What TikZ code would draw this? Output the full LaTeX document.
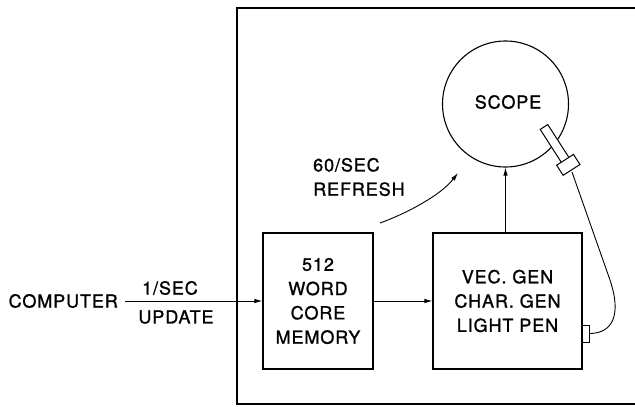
\documentclass[tikz,border=0pt]{standalone}
\usepackage{fontspec}
\setmainfont[LetterSpace=5,FakeBold=1.2]{TeX Gyre Heros}
\usetikzlibrary{arrows.meta}
\begin{document}
\begin{tikzpicture}[x=1pt,y=-1pt,
  lbl/.style={font=\fontsize{18}{24.3}\selectfont, inner sep=0pt},
  blk/.style={draw, line width=1.1pt, rectangle, inner sep=0pt, align=center, font=\fontsize{18}{24.3}\selectfont},
  conn/.style={line width=0.9pt},
  arr/.style={line width=0.9pt, -{Latex[length=8pt,width=4.5pt]}}]
\useasboundingbox (0,0) rectangle (635,407);
% frame
\draw[line width=2.2pt] (650,8) -- (237,8) -- (237,404) -- (650,404);
% blocks
\node[blk, minimum width=110pt, minimum height=136pt] (mem) at (318,301) {512\\WORD\\CORE\\MEMORY};
\node[blk, minimum width=149pt, minimum height=136pt] (gen) at (507.5,301) {VEC. GEN\\CHAR. GEN\\LIGHT PEN};
\node[draw, circle, line width=1.1pt, minimum size=126pt, inner sep=0pt, lbl] (scope) at (505.5,104) {};
\node[lbl] (scopet) at (508,102) {SCOPE};
% computer input
\node[lbl, anchor=east] (comp) at (118,301) {COMPUTER};
\node[lbl] (rate) at (170,288) {1/SEC};
\node[lbl] (upd) at (176,317) {UPDATE};
\draw[arr] (comp.east) ++(7,0) coordinate (cin) -- (mem.west);
% mem -> gen
\draw[arr] (mem.east) -- (gen.west);
% gen -> scope
\draw[arr] (gen.north -| scope.south) -- (scope.south);
% refresh
\node[lbl, anchor=west, align=left] (refr) at (313,177) {60/SEC\\REFRESH};
\coordinate (rs) at (380,223);
\coordinate (re) at (458,173);
\draw[arr] (rs) .. controls (405,214) and (440,196) .. (re);
% light pen connector
\node[draw, line width=1pt, rectangle, minimum width=7pt, minimum height=17pt, inner sep=0pt, anchor=west, fill=white] (plug) at (582,333.5) {};
\coordinate (pend) at (572,172);
\draw[conn] (pend) -- (610,280) .. controls (622,316) and (612,333) .. (plug.east);
% pen
\begin{scope}[shift={(544,127)}, rotate=-57.3]
  \draw[line width=1pt, fill=white] (0,-4.5) rectangle (50,4.5);
  \draw[line width=1pt, fill=white] (39,-10) rectangle (51,10);
\end{scope}
\end{tikzpicture}
\end{document}
